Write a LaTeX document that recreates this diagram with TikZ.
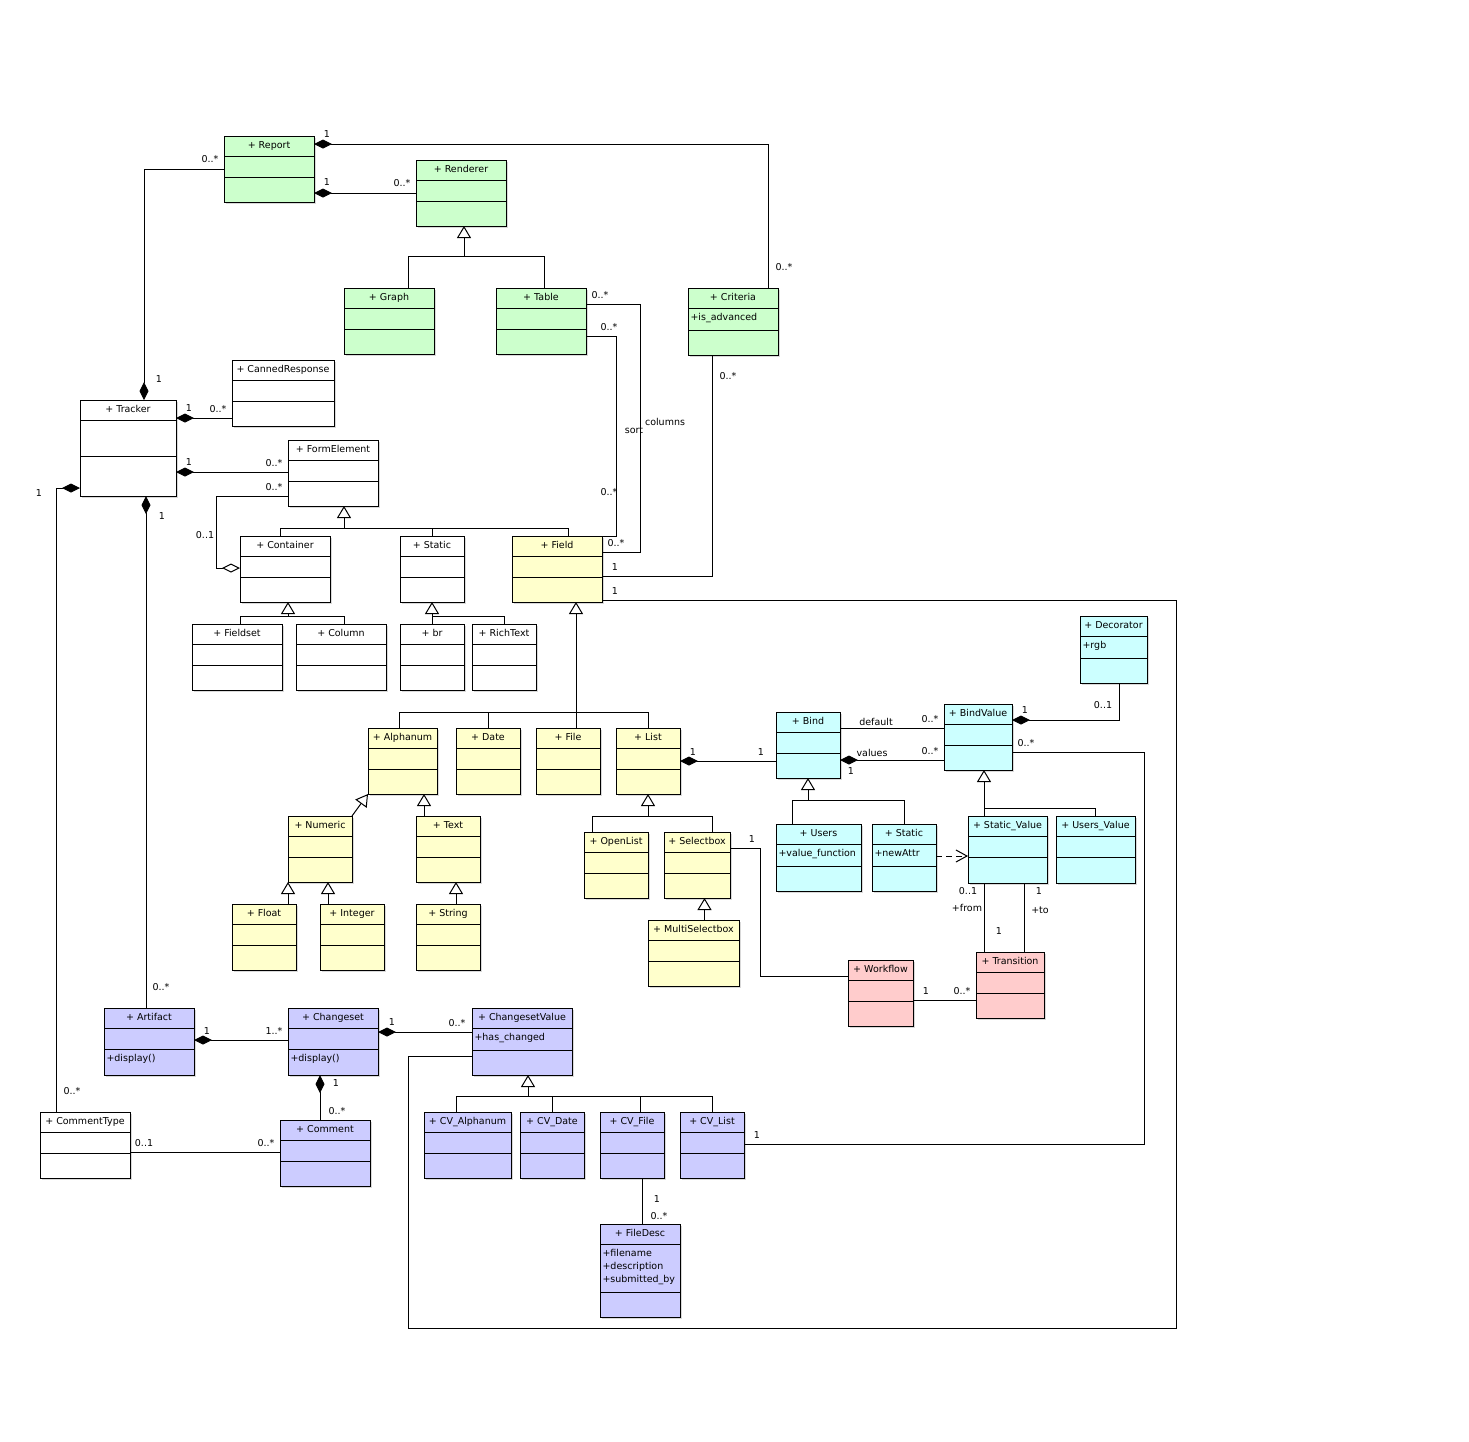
\documentclass[tikz,border=0pt]{standalone}
\usepackage{fontspec}
\setmainfont{DejaVu Sans}
\usetikzlibrary{arrows.meta,shadows}

\definecolor{reportgreen}{HTML}{CCFFCC}
\definecolor{fieldyellow}{HTML}{FFFFCC}
\definecolor{bindcyan}{HTML}{CCFFFF}
\definecolor{flowpink}{HTML}{FFCCCC}
\definecolor{changeblue}{HTML}{CCCCFF}

% class box: name, colour, x, y, width, height, second divider, title
\newcommand{\umlclass}[8]{%
  \node[classbox, fill=#2, minimum width=#5pt, minimum height=#6pt] (#1) at (#3,#4) {};
  \draw ([yshift=-20pt]#1.north west) -- ([yshift=-20pt]#1.north east);
  \draw ([yshift=-#7pt]#1.north west) -- ([yshift=-#7pt]#1.north east);
  \node[classname] (#1-name) at ([yshift=-10pt]#1.north) {+ #8};
}

\begin{document}
\begin{tikzpicture}[x=1pt, y=-1pt, line width=1pt, font=\fontsize{9.5}{11}\selectfont]

% definitions
\tikzstyle{classbox} = [rectangle, draw=black, anchor=north west, inner sep=0pt, outer sep=0pt, drop shadow={shadow xshift=2pt, shadow yshift=-2pt, fill=black, opacity=0.15}]
\tikzstyle{classname} = [inner sep=0pt, text height=7pt, text depth=2pt]
\tikzstyle{classattr} = [anchor=west, inner sep=0pt, text height=7pt, text depth=2pt]
\tikzstyle{mult} = [inner sep=0pt, text height=7pt, text depth=2pt]
\tikzstyle{comp} = [-{Diamond[length=18pt, width=9pt]}]
\tikzstyle{aggr} = [-{Diamond[open, length=18pt, width=9pt, fill=white]}]
\tikzstyle{gen} = [-{Triangle[open, length=12pt, width=14pt, fill=white]}]
\tikzstyle{dep} = [dash pattern=on 6pt off 4pt, -{Straight Barb[length=11pt, width=12pt]}]

\useasboundingbox (0,0) rectangle (1469,1441);

% the graph
\umlclass{report}{reportgreen}{224}{136}{90}{66}{41}{Report}
\umlclass{renderer}{reportgreen}{416}{160}{90}{66}{41}{Renderer}
\umlclass{graph}{reportgreen}{344}{288}{90}{66}{41}{Graph}
\umlclass{table}{reportgreen}{496}{288}{90}{66}{41}{Table}
\umlclass{criteria}{reportgreen}{688}{288}{90}{67}{42}{Criteria}
\node[classattr] (criteria-attr) at ([xshift=2pt, yshift=-30pt]criteria.north west) {+is\_advanced};

\umlclass{cannedresponse}{white}{232}{360}{102}{66}{41}{CannedResponse}
\umlclass{tracker}{white}{80}{400}{96}{96}{56}{Tracker}
\umlclass{formelement}{white}{288}{440}{90}{66}{41}{FormElement}
\umlclass{container}{white}{240}{536}{90}{66}{41}{Container}
\umlclass{static}{white}{400}{536}{64}{66}{41}{Static}
\umlclass{field}{fieldyellow}{512}{536}{90}{66}{41}{Field}
\umlclass{fieldset}{white}{192}{624}{90}{66}{41}{Fieldset}
\umlclass{column}{white}{296}{624}{90}{66}{41}{Column}
\umlclass{br}{white}{400}{624}{64}{66}{41}{br}
\umlclass{richtext}{white}{472}{624}{64}{66}{41}{RichText}

\umlclass{alphanum}{fieldyellow}{368}{728}{69}{66}{41}{Alphanum}
\umlclass{date}{fieldyellow}{456}{728}{64}{66}{41}{Date}
\umlclass{file}{fieldyellow}{536}{728}{64}{66}{41}{File}
\umlclass{list}{fieldyellow}{616}{728}{64}{66}{41}{List}
\umlclass{numeric}{fieldyellow}{288}{816}{64}{66}{41}{Numeric}
\umlclass{text}{fieldyellow}{416}{816}{64}{66}{41}{Text}
\umlclass{float}{fieldyellow}{232}{904}{64}{66}{41}{Float}
\umlclass{integer}{fieldyellow}{320}{904}{64}{66}{41}{Integer}
\umlclass{string}{fieldyellow}{416}{904}{64}{66}{41}{String}
\umlclass{openlist}{fieldyellow}{584}{832}{64}{66}{41}{OpenList}
\umlclass{selectbox}{fieldyellow}{664}{832}{66}{66}{41}{Selectbox}
\umlclass{multiselectbox}{fieldyellow}{648}{920}{91}{66}{41}{MultiSelectbox}

\umlclass{bind}{bindcyan}{776}{712}{64}{66}{41}{Bind}
\umlclass{users}{bindcyan}{776}{824}{85}{67}{42}{Users}
\node[classattr] (users-attr) at ([xshift=2pt, yshift=-30pt]users.north west) {+value\_function};
\umlclass{staticbind}{bindcyan}{872}{824}{64}{67}{42}{Static}
\node[classattr] (staticbind-attr) at ([xshift=2pt, yshift=-30pt]staticbind.north west) {+newAttr};
\umlclass{bindvalue}{bindcyan}{944}{704}{68}{66}{41}{BindValue}
\umlclass{decorator}{bindcyan}{1080}{616}{67}{67}{42}{Decorator}
\node[classattr] (decorator-attr) at ([xshift=2pt, yshift=-30pt]decorator.north west) {+rgb};
\umlclass{staticvalue}{bindcyan}{968}{816}{79}{67}{41}{Static\_Value}
\umlclass{usersvalue}{bindcyan}{1056}{816}{79}{67}{41}{Users\_Value}
\umlclass{workflow}{flowpink}{848}{960}{65}{66}{41}{Workflow}
\umlclass{transition}{flowpink}{976}{952}{68}{66}{41}{Transition}

\umlclass{artifact}{changeblue}{104}{1008}{90}{67}{41}{Artifact}
\node[classattr] (artifact-op) at ([xshift=2pt, yshift=-51pt]artifact.north west) {+display()};
\umlclass{changeset}{changeblue}{288}{1008}{90}{67}{41}{Changeset}
\node[classattr] (changeset-op) at ([xshift=2pt, yshift=-51pt]changeset.north west) {+display()};
\umlclass{changesetvalue}{changeblue}{472}{1008}{100}{67}{42}{ChangesetValue}
\node[classattr] (changesetvalue-attr) at ([xshift=2pt, yshift=-30pt]changesetvalue.north west) {+has\_changed};
\umlclass{commenttype}{white}{40}{1112}{90}{66}{41}{CommentType}
\umlclass{comment}{changeblue}{280}{1120}{90}{66}{41}{Comment}
\umlclass{cvalphanum}{changeblue}{424}{1112}{87}{66}{41}{CV\_Alphanum}
\umlclass{cvdate}{changeblue}{520}{1112}{64}{66}{41}{CV\_Date}
\umlclass{cvfile}{changeblue}{600}{1112}{64}{66}{41}{CV\_File}
\umlclass{cvlist}{changeblue}{680}{1112}{64}{66}{41}{CV\_List}
\umlclass{filedesc}{changeblue}{600}{1224}{80}{93}{68}{FileDesc}
\node[classattr] (filedesc-a1) at ([xshift=2pt, yshift=-30pt]filedesc.north west) {+filename};
\node[classattr] (filedesc-a2) at ([xshift=2pt, yshift=-43pt]filedesc.north west) {+description};
\node[classattr] (filedesc-a3) at ([xshift=2pt, yshift=-56pt]filedesc.north west) {+submitted\_by};

% report part
\draw[comp] (report.west) -| ([xshift=16pt]tracker.north);
\draw[comp] ([xshift=35pt]criteria.north) |- ([yshift=-8pt]report.north east);
\draw[comp] (renderer.west) -- (report.east |- renderer.west);
\coordinate (rendererBar) at ([xshift=3pt, yshift=-30pt]renderer.south);
\draw[gen] (rendererBar) -- ([xshift=3pt]renderer.south);
\draw ([xshift=19pt]graph.north) |- (rendererBar);
\draw ([xshift=3pt]table.north) |- (rendererBar);
\draw ([yshift=-16pt]table.north east) -- ++(54,0) |- ([yshift=-16pt]field.north east);
\draw ([yshift=-48pt]table.north east) -- ++(30,0) |- (field.north east);
\draw ([xshift=-21pt]criteria.south) |- ([yshift=-40pt]field.north east);
\draw ([yshift=-64pt]field.north east) -- ++(574,0) -- ++(0,728) -| ([xshift=-64pt, yshift=-48pt]changesetvalue.north west) -- ([yshift=-48pt]changesetvalue.north west);

% tracker and form elements
\draw[comp] ([yshift=-58pt]cannedresponse.north west) -- ([yshift=-18pt]tracker.north east);
\draw[comp] ([yshift=-32pt]formelement.north west) -- ([yshift=-72pt]tracker.north east);
\draw[aggr] ([yshift=-56pt]formelement.north west) -- ++(-72,0) |- ([yshift=-32pt]container.north west);
\coordinate (feBar) at ([xshift=11pt, yshift=-22pt]formelement.south);
\draw[gen] (feBar) -- ([xshift=11pt]formelement.south);
\draw ([xshift=-5pt]container.north) |- (feBar);
\draw (static.north) |- (feBar);
\draw ([xshift=11pt]field.north) |- (feBar);
\coordinate (containerBar) at ([xshift=3pt, yshift=-14pt]container.south);
\draw[gen] (containerBar) -- ([xshift=3pt]container.south);
\draw ([xshift=3pt]fieldset.north) |- (containerBar);
\draw ([xshift=3pt]column.north) |- (containerBar);
\coordinate (staticBar) at ([yshift=-14pt]static.south);
\draw[gen] (staticBar) -- (static.south);
\draw (br.north) -- (staticBar);
\draw (richtext.north) |- (staticBar);

% field types
\coordinate (fieldBar) at ([xshift=19pt, yshift=-110pt]field.south);
\draw[gen] (fieldBar) -- ([xshift=19pt]field.south);
\draw ([xshift=-3pt]alphanum.north) |- (fieldBar);
\draw (date.north) |- (fieldBar);
\draw (fieldBar) -- (fieldBar |- file.north);
\draw (list.north) |- (fieldBar);
\draw[gen] (numeric.north east) -- (alphanum.south west);
\draw[gen] ([xshift=-24pt]text.north) -- ([xshift=-24pt]text.north |- alphanum.south);
\draw[gen] ([xshift=24pt]float.north) -- ([xshift=24pt]float.north |- numeric.south);
\draw[gen] ([xshift=-24pt]integer.north) -- ([xshift=-24pt]integer.north |- numeric.south);
\draw[gen] ([xshift=8pt]string.north) -- ([xshift=8pt]string.north |- text.south);
\coordinate (listBar) at ([yshift=-22pt]list.south);
\draw[gen] (listBar) -- (list.south);
\draw ([xshift=-24pt]openlist.north) |- (listBar);
\draw ([xshift=15pt]selectbox.north) |- (listBar);
\draw[gen] ([xshift=11pt]multiselectbox.north) -- ([xshift=11pt]multiselectbox.north |- selectbox.south);

% binds and workflow
\draw[comp] ([yshift=-49pt]bind.north west) -- ([yshift=-33pt]list.north east);
\draw ([yshift=-16pt]selectbox.north east) -- ++(30,0) |- ([yshift=-16pt]workflow.north west);
\draw ([yshift=-40pt]workflow.north east) -- ([yshift=-48pt]transition.north west);
\draw ([xshift=16pt]staticvalue.south west) -- ([xshift=16pt]staticvalue.south west |- transition.north);
\draw ([xshift=56pt]staticvalue.south west) -- ([xshift=56pt]staticvalue.south west |- transition.north);
\coordinate (bindBar) at ([yshift=-22pt]bind.south);
\draw[gen] (bindBar) -- (bind.south);
\draw ([xshift=-26pt]users.north) |- (bindBar);
\draw (staticbind.north) |- (bindBar);
\draw[gen] ([xshift=16pt]staticvalue.north west) -- ([xshift=16pt]staticvalue.north west |- bindvalue.south);
\draw (usersvalue.north) |- ([xshift=16pt, yshift=8pt]staticvalue.north west);
\draw[dep] ([yshift=-32pt]staticbind.north east) -- ([yshift=-40pt]staticvalue.north west);
\draw ([yshift=-16pt]bind.north east) -- ([yshift=-24pt]bindvalue.north west);
\draw[comp] ([yshift=-56pt]bindvalue.north west) -- ([yshift=-48pt]bind.north east);
\draw[comp] ([xshift=6pt]decorator.south) |- ([yshift=-16pt]bindvalue.north east);
\draw ([yshift=-48pt]bindvalue.north east) -- ++(132,0) |- ([yshift=-32pt]cvlist.north east);

% artifacts and changesets
\draw[comp] ([xshift=18pt]tracker.south |- artifact.north) -- ([xshift=18pt]tracker.south);
\draw[comp] ([xshift=-29pt]commenttype.north) |- ([yshift=-88pt]tracker.north west);
\draw[comp] ([yshift=-32pt]changeset.north west) -- ([yshift=-32pt]artifact.north east);
\draw[comp] ([yshift=-24pt]changesetvalue.north west) -- ([yshift=-24pt]changeset.north east);
\draw[comp] ([xshift=-13pt]changeset.south |- comment.north) -- ([xshift=-13pt]changeset.south);
\draw ([yshift=-40pt]commenttype.north east) -- ([yshift=-32pt]comment.north west);
\coordinate (csvBar) at ([xshift=6pt, yshift=-21pt]changesetvalue.south);
\draw[gen] (csvBar) -- ([xshift=6pt]changesetvalue.south);
\draw ([xshift=-11pt]cvalphanum.north) |- (csvBar);
\draw (cvdate.north) |- (csvBar);
\draw ([xshift=8pt]cvfile.north) |- (csvBar);
\draw (cvlist.north) |- (csvBar);
\draw ([xshift=10pt]cvfile.south) -- ([xshift=10pt]cvfile.south |- filedesc.north);

% multiplicities and roles
\node[mult] (m1) at (210,160) {0..*};
\node[mult] (m2) at (327,135) {1};
\node[mult] (m3) at (327,183) {1};
\node[mult] (m4) at (402,184) {0..*};
\node[mult] (m5) at (159,380) {1};
\node[mult] (m6) at (189,409) {1};
\node[mult] (m7) at (218,410) {0..*};
\node[mult] (m8) at (189,463) {1};
\node[mult] (m9) at (274,464) {0..*};
\node[mult] (m10) at (274,488) {0..*};
\node[mult] (m11) at (39,494) {1};
\node[mult] (m12) at (162,517) {1};
\node[mult] (m13) at (205,536) {0..1};
\node[mult] (m14) at (784,268) {0..*};
\node[mult] (m15) at (600,296) {0..*};
\node[mult] (m16) at (609,328) {0..*};
\node[mult] (m17) at (728,377) {0..*};
\node[mult] (m18) at (665,423) {columns};
\node[mult] (m19) at (634,431) {sort};
\node[mult] (m20) at (609,493) {0..*};
\node[mult] (m21) at (616,544) {0..*};
\node[mult] (m22) at (615,568) {1};
\node[mult] (m23) at (615,592) {1};
\node[mult] (m24) at (693,753) {1};
\node[mult] (m25) at (752,840) {1};
\node[mult] (m26) at (761,753) {1};
\node[mult] (m27) at (876,723) {default};
\node[mult] (m28) at (930,720) {0..*};
\node[mult] (m29) at (872,754) {values};
\node[mult] (m30) at (930,752) {0..*};
\node[mult] (m31) at (851,772) {1};
\node[mult] (m32) at (1025,711) {1};
\node[mult] (m33) at (1103,706) {0..1};
\node[mult] (m34) at (1026,744) {0..*};
\node[mult] (m35) at (968,892) {0..1};
\node[mult] (m36) at (967,909) {+from};
\node[mult] (m37) at (999,932) {1};
\node[mult] (m38) at (1039,892) {1};
\node[mult] (m39) at (1040,911) {+to};
\node[mult] (m40) at (926,992) {1};
\node[mult] (m41) at (962,992) {0..*};
\node[mult] (m42) at (161,988) {0..*};
\node[mult] (m43) at (207,1032) {1};
\node[mult] (m44) at (274,1032) {1..*};
\node[mult] (m45) at (392,1023) {1};
\node[mult] (m46) at (457,1024) {0..*};
\node[mult] (m47) at (336,1084) {1};
\node[mult] (m48) at (337,1112) {0..*};
\node[mult] (m49) at (72,1092) {0..*};
\node[mult] (m50) at (144,1144) {0..1};
\node[mult] (m51) at (266,1144) {0..*};
\node[mult] (m52) at (757,1136) {1};
\node[mult] (m53) at (657,1200) {1};
\node[mult] (m54) at (659,1217) {0..*};

\end{tikzpicture}
\end{document}
